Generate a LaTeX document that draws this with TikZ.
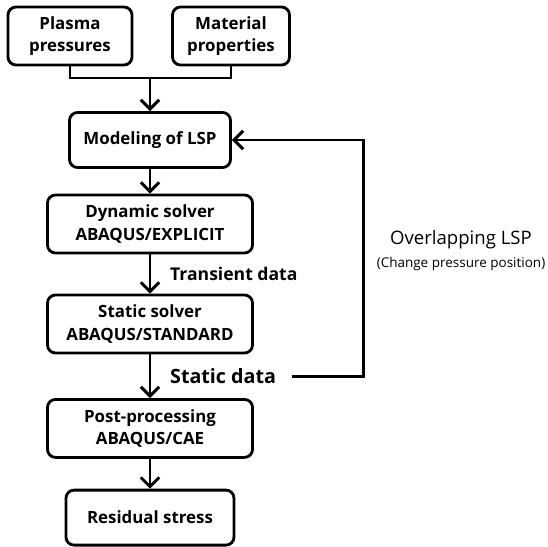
\documentclass[tikz,border=0pt]{standalone}
\usepackage{fontspec}
\setmainfont{Open Sans}
\usepackage{tikz}
\usetikzlibrary{arrows.meta,positioning}
\tikzstyle{block} = [rectangle, draw, line width=2pt, align=center, rounded corners=2mm, minimum height=14.5mm, font=\fontsize{12}{16}\selectfont\bfseries]
\tikzstyle{arrow} = [line width=2.1pt,->,>={Straight Barb[length=2.3mm,width=4.6mm]}]
\tikzstyle{datalabel} = [font=\fontsize{12.5}{15}\selectfont\bfseries]

\begin{document}
\begin{tikzpicture}[x=0.25mm, y=0.25mm, node distance=21mm]
  \useasboundingbox (0,0) rectangle (548,-547);
                \node[block, minimum width=31mm] (plasma) at (70,-36) {Plasma\\pressures};
                \node[block, minimum width=29.25mm] (material) at (231,-36) {Material\\properties};
                \node[block, minimum width=40.25mm, minimum height=13.75mm] (modeling) at (150,-140) {Modeling of LSP};
                \node[block, minimum width=51.25mm, below of=modeling] (dynamic) {Dynamic solver\\ABAQUS/EXPLICIT};
                \node[block, minimum width=51.25mm, below of=dynamic, node distance=25mm] (static) {Static solver\\ABAQUS/STANDARD};
                \node[block, minimum width=51.25mm, below of=static, node distance=26.1mm] (post) {Post-processing\\ABAQUS/CAE};
                \node[block, minimum width=42mm, minimum height=13.75mm, below of=post, node distance=22.3mm] (residual) {Residual stress};

                % inputs merge into the model
                \coordinate (merge) at (150,-78);
                \draw[line width=2.1pt] (plasma.south) |- (merge) -| (material.south);
                \draw[arrow] (merge) -- (modeling.north);

                \draw[arrow] (modeling) -- (dynamic);
                \draw[arrow] (dynamic) -- node[midway, right, datalabel, xshift=3.5mm] {Transient data} (static);
                \draw[arrow] (static) -- node[midway, right, datalabel, font=\fontsize{14}{17}\selectfont\bfseries, xshift=3.5mm] (sdata) {Static data} (post);
                \draw[arrow] (post) -- (residual);

                % overlapping loop back
                \draw[arrow] ([xshift=2.5mm]sdata.east) -- ++(71,0) |- (modeling.east);
                \node[font=\fontsize{13.2}{16}\selectfont] (overlap) at (461,-240) {Overlapping LSP};
                \node[font=\fontsize{9.6}{12}\selectfont, below of=overlap, node distance=6mm] (change) {(Change pressure position)};
            \end{tikzpicture}
\end{document}
